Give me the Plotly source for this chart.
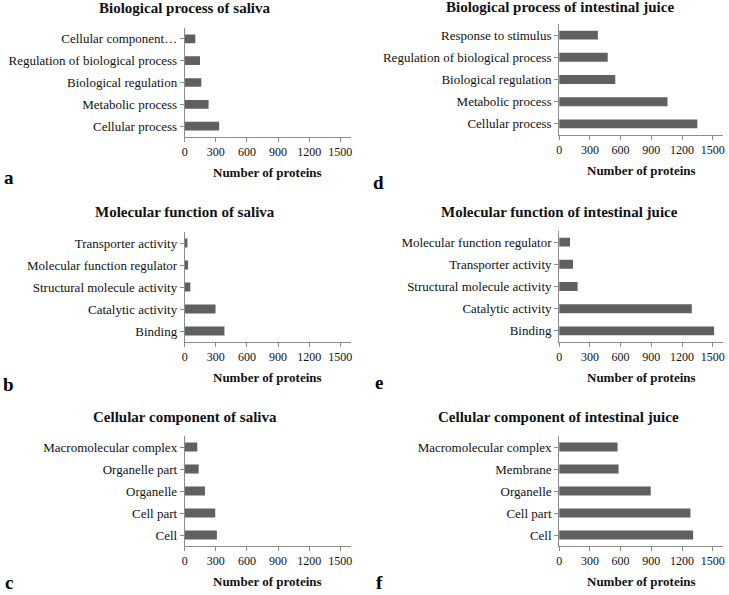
import plotly.graph_objects as go

W, H = 729, 595

# Data (bottom-to-top order as drawn)
bp_saliva_cats = ["Cellular process", "Metabolic process", "Biological regulation",
                  "Regulation of biological process", "Cellular component…"]
bp_saliva_vals = [332, 230, 160, 147, 102]

bp_juice_cats = ["Cellular process", "Metabolic process", "Biological regulation",
                 "Regulation of biological process", "Response to stimulus"]
bp_juice_vals = [1349, 1058, 548, 474, 378]

mf_saliva_cats = ["Binding", "Catalytic activity", "Structural molecule activity",
                  "Molecular function regulator", "Transporter activity"]
mf_saliva_vals = [383, 297, 54, 32, 26]

mf_juice_cats = ["Binding", "Catalytic activity", "Structural molecule activity",
                 "Transporter activity", "Molecular function regulator"]
mf_juice_vals = [1513, 1295, 180, 135, 106]

cc_saliva_cats = ["Cell", "Cell part", "Organelle", "Organelle part", "Macromolecular complex"]
cc_saliva_vals = [310, 294, 195, 134, 121]

cc_juice_cats = ["Cell", "Cell part", "Organelle", "Membrane", "Macromolecular complex"]
cc_juice_vals = [1308, 1282, 894, 580, 570]

titles = ["Biological process of saliva", "Biological process of intestinal juice",
          "Molecular function of saliva", "Molecular function of intestinal juice",
          "Cellular component of saliva", "Cellular component of intestinal juice"]
letters = ["a", "d", "b", "e", "c", "f"]
x_ticks = [0, 300, 600, 900, 1200, 1500]
x_title = "Number of proteins"

panels = [
    (bp_saliva_cats, bp_saliva_vals),
    (bp_juice_cats, bp_juice_vals),
    (mf_saliva_cats, mf_saliva_vals),
    (mf_juice_cats, mf_juice_vals),
    (cc_saliva_cats, cc_saliva_vals),
    (cc_juice_cats, cc_juice_vals),
]

# pixel geometry: (x0, x1, ytop, ybottom)
geom = [
    (183, 350, 28, 137),
    (560, 725, 24, 135),
    (183, 350, 232, 342),
    (560, 725, 231, 342),
    (183, 350, 436, 546),
    (560, 725, 436, 546),
]
title_pos = [(183, 8), (561, 7), (183, 212), (560, 212), (183, 417), (559, 417)]
letter_pos = [(6, 177), (378, 182), (6, 384), (379, 382), (6, 582), (379, 582)]

SERIF = "Liberation Serif"
BAR = "#606060"
AX = "#8c8c8c"

def px(x):
    return x / W

def py(y):
    return 1 - y / H

fig = go.Figure()
ann = []
for i, ((cats, vals), (x0, x1, yt, yb)) in enumerate(zip(panels, geom)):
    n = "" if i == 0 else str(i + 1)
    fig.add_trace(go.Bar(x=vals, y=cats, orientation="h", width=0.4,
                         marker=dict(color=BAR, line=dict(width=0)),
                         xaxis="x" + n, yaxis="y" + n, showlegend=False))
    fig.layout["xaxis" + n] = dict(
        domain=[px(x0), px(x1)], range=[0, 1600], tickvals=x_ticks,
        anchor="y" + n, showgrid=False, zeroline=False, showline=True,
        linecolor=AX, linewidth=1, ticks="outside", ticklen=4, tickcolor=AX,
        tickfont=dict(family=SERIF, size=12, color="#111"), fixedrange=True)
    fig.layout["yaxis" + n] = dict(
        domain=[py(yb), py(yt)], range=[-0.5, 4.5], type="category",
        anchor="x" + n, showgrid=False, zeroline=False, showline=True,
        linecolor=AX, linewidth=1, ticks="outside", ticklen=4, tickcolor=AX,
        tickfont=dict(family=SERIF, size=13, color="#111"), fixedrange=True)
    tx, ty = title_pos[i]
    ann.append(dict(text="<b>" + titles[i] + "</b>", x=px(tx), y=py(ty), xref="paper", yref="paper",
                    xanchor="center", yanchor="middle", showarrow=False,
                    font=dict(family=SERIF, size=15, color="#111")))
    ann.append(dict(text="<b>" + x_title + "</b>", x=px((x0 + x1) / 2), y=py(yb + 35),
                    xref="paper", yref="paper", xanchor="center", yanchor="middle",
                    showarrow=False, font=dict(family=SERIF, size=13, color="#111")))
    lx, ly = letter_pos[i]
    ann.append(dict(text="<b>" + letters[i] + "</b>", x=px(lx), y=py(ly), xref="paper", yref="paper",
                    xanchor="center", yanchor="middle", showarrow=False,
                    font=dict(family=SERIF, size=19, color="#000")))

fig.update_layout(width=W, height=H, margin=dict(l=0, r=0, t=0, b=0),
                  paper_bgcolor="white", plot_bgcolor="white",
                  annotations=ann, bargap=0.58)
fig.write_html("out.html", config={"displayModeBar": False},
               post_script="document.body.style.margin='0px';")
